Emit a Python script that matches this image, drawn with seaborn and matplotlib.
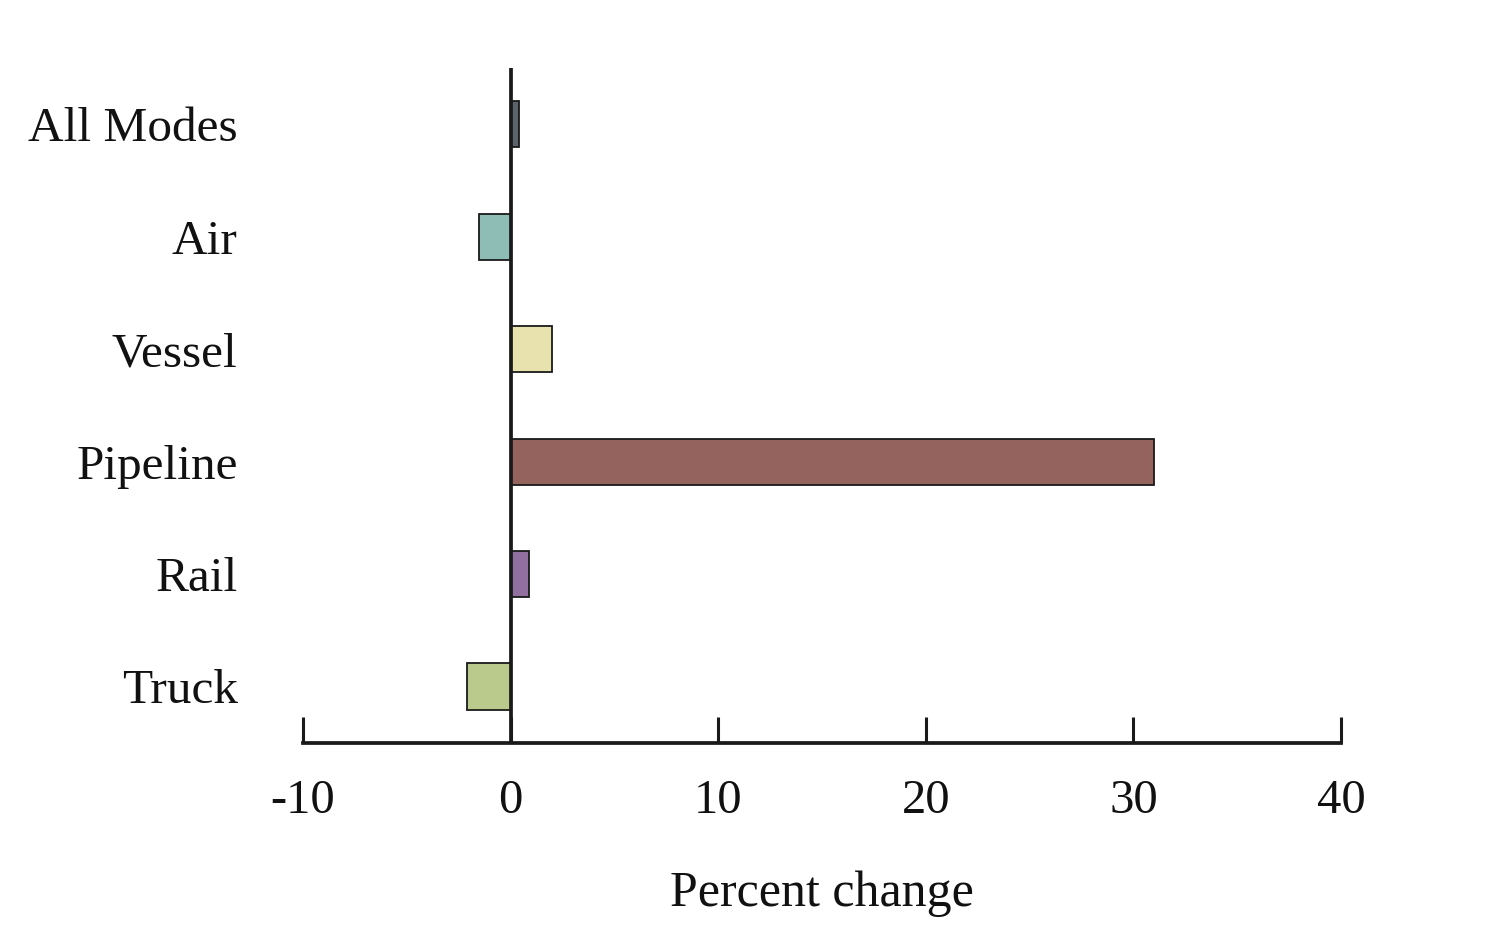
import matplotlib
matplotlib.use("Agg")
import matplotlib.pyplot as plt
import seaborn as sns
import pandas as pd

categories = ["All Modes", "Air", "Vessel", "Pipeline", "Rail", "Truck"]
values = [0.4, -1.5, 2.0, 31.0, 0.9, -2.1]
colors = ["#5d636b", "#8dbdb4", "#e8e3ae", "#95635d", "#91709f", "#b9ca8c"]
x_ticks = [-10, 0, 10, 20, 30, 40]
x_label = "Percent change"

sns.set_theme(style="white")
plt.rcParams["font.family"] = ["Liberation Serif", "DejaVu Serif"]

df = pd.DataFrame({"mode": categories, "value": values})

fig = plt.figure(figsize=(15.04, 9.30), dpi=100)
ax = fig.add_axes([303 / 1504, 1 - 742.7 / 930, (1341 - 303) / 1504, (742.7 - 68) / 930])

sns.barplot(data=df, x="value", y="mode", hue="mode", order=categories,
            palette=dict(zip(categories, colors)), orient="h", width=0.41,
            edgecolor="#1a1a1a", linewidth=1.3, legend=False, ax=ax, saturation=1)

ax.set_xlim(-10, 40)
ax.set_ylim(5.5, -0.5)
ax.set_xticks(x_ticks)
ax.set_xticklabels([str(t) for t in x_ticks])
ax.set_xlabel(x_label, fontsize=36, labelpad=34, color="#111111")
ax.set_ylabel("")

for s in ["top", "right", "left"]:
    ax.spines[s].set_visible(False)
ax.spines["bottom"].set_linewidth(2.7)
ax.spines["bottom"].set_color("#1a1a1a")
ax.axvline(0, color="#1a1a1a", linewidth=2.7, zorder=1)

ax.tick_params(axis="x", direction="in", length=19, width=2.2, color="#1a1a1a",
               labelsize=35, pad=26, labelcolor="#111111", bottom=True)
ax.tick_params(axis="y", length=0, labelsize=35.5, pad=47, labelcolor="#111111")
for lab in ax.get_yticklabels():
    lab.set_horizontalalignment("right")
ax.grid(False)

fig.savefig("out.png", dpi=100, facecolor="white")
